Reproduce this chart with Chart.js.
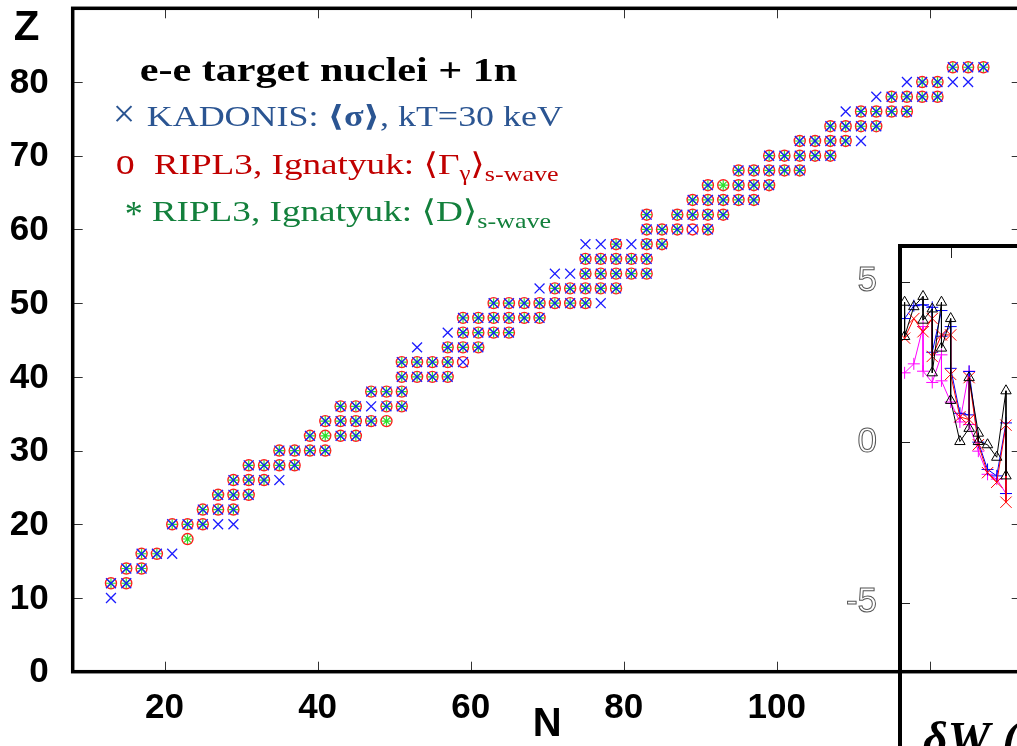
<!DOCTYPE html>
<html>
<head>
<meta charset="utf-8">
<script src="https://cdn.jsdelivr.net/npm/chart.js@4.4.1/dist/chart.umd.min.js"></script>
<style>
  html, body { margin: 0; padding: 0; overflow: hidden; background: #fff; }
  #wrap { position: relative; width: 1017px; height: 746px; overflow: hidden; }
  #inset { position: absolute; left: 830px; top: 236px; }
  #main { position: absolute; left: 0; top: 0; }
</style>
</head>
<body>
<div id="wrap">
  <canvas id="inset" width="200" height="534"></canvas>
  <canvas id="main" width="1030" height="760"></canvas>
</div>
<script>
// ---- main panel: (N, Z) of compound nuclei ----
// nuclei found in all three compilations
const allThree = [
  [13,12],[15,12],
  [15,14],[17,14],
  [17,16],[19,16],
  [21,20],[23,20],[25,20],
  [25,22],[27,22],[29,22],
  [27,24],[29,24],[31,24],
  [29,26],[31,26],[33,26],
  [31,28],[33,28],[35,28],[37,28],
  [35,30],[37,30],[39,30],[41,30],
  [39,32],[43,32],[45,32],
  [41,34],[43,34],[45,34],[47,34],
  [43,36],[45,36],[49,36],[51,36],
  [47,38],[49,38],[51,38],
  [51,40],[53,40],[55,40],[57,40],
  [51,42],[53,42],[55,42],[57,42],
  [57,44],[59,44],[61,44],
  [59,46],[61,46],[63,46],[65,46],
  [59,48],[61,48],[63,48],[65,48],[67,48],[69,48],
  [63,50],[65,50],[67,50],[69,50],[71,50],[73,50],[75,50],
  [71,52],[73,52],[75,52],[77,52],[79,52],
  [75,54],[77,54],[79,54],[81,54],[83,54],
  [75,56],[77,56],[79,56],[81,56],[83,56],
  [79,58],[83,58],[85,58],
  [83,60],[85,60],[87,60],[91,60],
  [83,62],[87,62],[89,62],[91,62],[93,62],
  [89,64],[91,64],[93,64],[95,64],[97,64],
  [91,66],[95,66],[97,66],[99,66],
  [95,68],[97,68],[99,68],[101,68],[103,68],
  [99,70],[101,70],[103,70],[105,70],[107,70],
  [103,72],[105,72],[107,72],[109,72],
  [107,74],[109,74],[111,74],[113,74],
  [111,76],[113,76],[115,76],[117,76],
  [115,78],[117,78],[119,78],[121,78],
  [119,80],[121,80],
  [123,82],[125,82],[127,82]
];
// only in KADONIS
const kadonisOnly = [
  [13,10],[21,16],[27,20],[29,20],[35,26],[47,36],[53,44],[57,46],
  [77,50],[69,52],[71,54],[73,54],[75,58],[77,58],[81,58],
  [111,72],[109,76],[113,78],[117,80],[123,80],[125,80]
];
// RIPL3 only (both <Gamma_gamma> and <D>)
const ripl3Only = [[23,18],[41,32],[49,34],[93,66]];
// KADONIS + <Gamma_gamma>, no <D>
const kadonisGamma = [[59,42],[89,60]];

const xTicks = [20, 40, 60, 80, 100, 120];
const xTickLabels = ['20', '40', '60', '80', '100', ''];
const yTicks = [0, 10, 20, 30, 40, 50, 60, 70, 80];
const yTickLabels = ['0', '10', '20', '30', '40', '50', '60', '70', '80'];

// ---- inset: delta W curves ----
const insetTriangles = [[10,4.36],[10,3.29],[12,4.22],[14,4.54],[14,3.8],[16,4.15],[16,2.16],[18,4.36],[18,2.93],
  [20,3.85],[20,1.3],[22,0.02],[24,0.43],[24,2.01],[26,0.28],[26,0.02],[28,-0.08],[30,-0.47],[32,1.6],[32,-1.05]];
const insetBlue = [[10,3.85],[12,4.25],[14,4.28],[16,4.2],[16,2.8],[18,4.1],[18,3.3],[20,3.6],[20,2.3],[22,0.9],
  [24,0.85],[24,2.2],[26,0.0],[28,-0.85],[30,-1.05],[32,0.6],[32,-1.6]];
const insetRed = [[10,3.24],[12,3.85],[14,3.44],[16,3.85],[16,2.67],[18,3.34],[20,3.34],[20,2.11],[22,0.79],
  [24,0.7],[24,2.01],[26,-0.08],[28,-0.95],[30,-1.25],[32,0.53],[32,-1.87]];
const insetMagenta = [[10,2.16],[12,2.44],[14,3.6],[14,2.21],[16,1.86],[18,2.72],[18,1.91],[20,1.25],[22,0.63],
  [24,2.21],[24,0.55],[26,-0.28],[28,-1.0],[30,-1.15],[32,-1.6]];
const insetYTicks = [5, 0, -5];
const insetXTicks = [20];

const toXY = pts => pts.map(([x, y]) => ({ x, y }));
const SANS = '"Liberation Sans", Arial, sans-serif';
const SERIF = '"Liberation Serif", "DejaVu Serif", serif';

// draws a run of differently styled pieces of text on one line
function drawRuns(ctx, x, y, runs, stretch) {
  ctx.save();
  ctx.translate(x, y);
  ctx.scale(stretch, 1);
  let cx = 0;
  runs.forEach(r => {
    ctx.font = r.font;
    ctx.fillStyle = r.color;
    ctx.fillText(r.text, cx, r.dy || 0);
    cx += ctx.measureText(r.text).width;
  });
  ctx.restore();
}

const mainFrame = {
  id: 'mainFrame',
  afterDraw(chart) {
    const { ctx, chartArea: a, scales: { x, y } } = chart;
    ctx.save();
    ctx.strokeStyle = '#333';
    ctx.lineWidth = 1;
    ctx.beginPath();
    xTicks.forEach(v => {
      const px = Math.round(x.getPixelForValue(v)) + 0.5;
      ctx.moveTo(px, a.bottom); ctx.lineTo(px, a.bottom - 10);
      ctx.moveTo(px, a.top); ctx.lineTo(px, a.top + 10);
    });
    yTicks.forEach(v => {
      const py = Math.round(y.getPixelForValue(v)) + 0.5;
      ctx.moveTo(a.left, py); ctx.lineTo(a.left + 10, py);
      ctx.moveTo(a.right, py); ctx.lineTo(a.right - 10, py);
    });
    ctx.stroke();
    ctx.strokeStyle = '#000';
    ctx.lineWidth = 3.5;
    ctx.strokeRect(a.left, a.top, a.right - a.left, a.bottom - a.top);

    ctx.fillStyle = '#000';
    ctx.font = 'bold 35px ' + SANS;
    ctx.textAlign = 'center';
    ctx.textBaseline = 'middle';
    xTicks.forEach((v, i) => {
      if (xTickLabels[i]) ctx.fillText(xTickLabels[i], x.getPixelForValue(v), a.bottom + 37);
    });
    ctx.textAlign = 'right';
    yTicks.forEach((v, i) => ctx.fillText(yTickLabels[i], a.left - 24, y.getPixelForValue(v) + 1));
    ctx.textAlign = 'center';
    ctx.font = 'bold 42px ' + SANS;
    ctx.fillText('Z', a.left - 46, a.top + 20);
    ctx.font = 'bold 40px ' + SANS;
    ctx.fillText('N', x.getPixelForValue(70), a.bottom + 53);

    // key text in the upper left corner
    ctx.textAlign = 'left';
    ctx.textBaseline = 'alphabetic';
    const L = a.left, T = a.top;
    const blue = '#2b5592', red = '#c00000', green = '#13803c';
    const st = 1.24;
    drawRuns(ctx, L + 67, T + 73, [{ text: 'e-e target nuclei + 1n', font: 'bold 34px ' + SERIF, color: '#000' }], st);

    ctx.font = '40px ' + SERIF; ctx.fillStyle = blue;
    ctx.fillText('\u00d7', L + 40, T + 119);
    drawRuns(ctx, L + 74, T + 118, [
      { text: 'KADONIS: ', font: '29px ' + SERIF, color: blue },
      { text: '\u27e8\u03c3\u27e9', font: 'bold 29px ' + SERIF, color: blue },
      { text: ', kT=30 keV', font: '29px ' + SERIF, color: blue }
    ], st);

    ctx.font = '38px ' + SERIF; ctx.fillStyle = red;
    ctx.fillText('o', L + 43, T + 165.5);
    drawRuns(ctx, L + 81, T + 165.5, [
      { text: 'RIPL3, Ignatyuk: \u27e8\u0393', font: '30px ' + SERIF, color: red },
      { text: '\u03b3', font: '20px ' + SERIF, color: red, dy: 6 },
      { text: '\u27e9', font: '30px ' + SERIF, color: red },
      { text: 's-wave', font: '21px ' + SERIF, color: red, dy: 7 }
    ], st);

    ctx.font = '36px ' + SERIF; ctx.fillStyle = green;
    ctx.fillText('*', L + 52, T + 218);
    drawRuns(ctx, L + 79, T + 212.5, [
      { text: 'RIPL3, Ignatyuk: \u27e8D\u27e9', font: '30px ' + SERIF, color: green },
      { text: 's-wave', font: '21px ' + SERIF, color: green, dy: 7 }
    ], st);
    ctx.restore();
  }
};

new Chart(document.getElementById('main'), {
  type: 'scatter',
  data: {
    datasets: [
      {
        label: 'KADONIS <sigma>, kT=30 keV',
        data: toXY([...allThree, ...kadonisOnly, ...kadonisGamma]),
        pointStyle: 'crossRot', pointRadius: 7, borderWidth: 1.3,
        borderColor: '#1c1cff', backgroundColor: 'rgba(0,0,0,0)'
      },
      {
        label: 'RIPL3 <D> s-wave',
        data: toXY([...allThree, ...ripl3Only]),
        pointStyle: 'star', pointRadius: 5, borderWidth: 1.2,
        borderColor: '#2fe02f', backgroundColor: 'rgba(0,0,0,0)'
      },
      {
        label: 'RIPL3 <Gamma_gamma> s-wave',
        data: toXY([...allThree, ...ripl3Only, ...kadonisGamma]),
        pointStyle: 'circle', pointRadius: 5.5, borderWidth: 1.4,
        borderColor: '#ff1f1f', backgroundColor: 'rgba(0,0,0,0)'
      }
    ]
  },
  options: {
    responsive: false,
    animation: false,
    events: [],
    layout: { padding: { left: 72.7, top: 6, right: 6.6, bottom: 88.3 } },
    plugins: { legend: { display: false }, tooltip: { enabled: false } },
    scales: {
      x: { type: 'linear', min: 8, max: 132, display: false },
      y: { type: 'linear', min: 0, max: 90, display: false }
    }
  },
  plugins: [mainFrame]
});

const insetFrame = {
  id: 'insetFrame',
  afterDraw(chart) {
    const { ctx, chartArea: a, scales: { x, y } } = chart;
    ctx.save();
    ctx.strokeStyle = '#222';
    ctx.lineWidth = 1;
    ctx.beginPath();
    insetYTicks.forEach(v => {
      const py = Math.round(y.getPixelForValue(v)) + 0.5;
      ctx.moveTo(a.left, py); ctx.lineTo(a.left + 10, py);
    });
    insetXTicks.forEach(v => {
      const px = Math.round(x.getPixelForValue(v)) + 0.5;
      ctx.moveTo(px, a.top); ctx.lineTo(px, a.top + 12);
    });
    ctx.stroke();
    ctx.strokeStyle = '#000';
    ctx.lineWidth = 4;
    ctx.strokeRect(a.left, a.top, a.right - a.left + 20, a.bottom - a.top + 20);

    // hollow tick numbers
    ctx.font = '35px ' + SANS;
    ctx.textAlign = 'right';
    ctx.textBaseline = 'middle';
    ctx.strokeStyle = '#555';
    ctx.lineWidth = 1;
    insetYTicks.forEach(v => ctx.strokeText(String(v), a.left - 23, y.getPixelForValue(v)));

    ctx.fillStyle = '#000';
    ctx.textAlign = 'left';
    ctx.textBaseline = 'alphabetic';
    ctx.font = 'bold italic 48px ' + SERIF;
    ctx.fillText('\u03b4W (', a.left + 23, a.top + 509);
    ctx.restore();
  }
};

const insetLine = (data, color, style, radius) => ({
  data: toXY(data), showLine: true, borderColor: color, borderWidth: 1,
  pointStyle: style, pointRadius: radius, pointBorderColor: color, pointBorderWidth: 1,
  backgroundColor: 'rgba(0,0,0,0)', pointBackgroundColor: 'rgba(0,0,0,0)'
});

new Chart(document.getElementById('inset'), {
  type: 'scatter',
  data: {
    datasets: [
      insetLine(insetTriangles, '#000000', 'triangle', 6),
      insetLine(insetRed, '#ff0000', 'crossRot', 8),
      insetLine(insetBlue, '#0000ff', 'cross', 6),
      insetLine(insetMagenta, '#ff00ff', 'cross', 6)
    ]
  },
  options: {
    responsive: false,
    animation: false,
    events: [],
    layout: { padding: { left: 70, top: 10, right: 0, bottom: 0 } },
    plugins: { legend: { display: false }, tooltip: { enabled: false } },
    scales: {
      x: { type: 'linear', min: 9, max: 35.26, display: false },
      y: { type: 'linear', min: -9.93, max: 6.11, display: false }
    }
  },
  plugins: [insetFrame]
});
</script>
</body>
</html>
